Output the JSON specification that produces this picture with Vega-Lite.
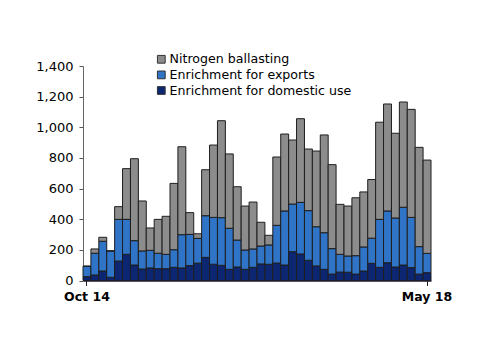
{
  "$schema": "https://vega.github.io/schema/vega-lite/v6.json",
  "autosize": {"type": "none"},
  "padding": {"left": 83, "top": 66, "right": 69, "bottom": 74},
  "width": 348,
  "height": 214.5,
  "background": "white",
  "config": {
    "view": {"stroke": null},
    "font": "DejaVu Sans",
    "axis": {"labelFont": "DejaVu Sans", "labelColor": "#000", "labelFontSize": 13, "grid": false, "title": null}
  },
  "datasets": {
    "wide": [
      {"m": "Oct 14", "dom": 25, "exp": 68, "nit": 0},
      {"m": "Nov 14", "dom": 36, "exp": 142, "nit": 28},
      {"m": "Dec 14", "dom": 62, "exp": 194, "nit": 26},
      {"m": "Jan 15", "dom": 21, "exp": 172, "nit": 0},
      {"m": "Feb 15", "dom": 127, "exp": 272, "nit": 83},
      {"m": "Mar 15", "dom": 171, "exp": 228, "nit": 331},
      {"m": "Apr 15", "dom": 101, "exp": 159, "nit": 535},
      {"m": "May 15", "dom": 75, "exp": 118, "nit": 326},
      {"m": "Jun 15", "dom": 82, "exp": 115, "nit": 146},
      {"m": "Jul 15", "dom": 77, "exp": 101, "nit": 221},
      {"m": "Aug 15", "dom": 77, "exp": 94, "nit": 248},
      {"m": "Sep 15", "dom": 86, "exp": 115, "nit": 433},
      {"m": "Oct 15", "dom": 82, "exp": 217, "nit": 574},
      {"m": "Nov 15", "dom": 97, "exp": 204, "nit": 142},
      {"m": "Dec 15", "dom": 113, "exp": 162, "nit": 30},
      {"m": "Jan 16", "dom": 151, "exp": 272, "nit": 300},
      {"m": "Feb 16", "dom": 106, "exp": 306, "nit": 472},
      {"m": "Mar 16", "dom": 99, "exp": 311, "nit": 633},
      {"m": "Apr 16", "dom": 73, "exp": 268, "nit": 485},
      {"m": "May 16", "dom": 88, "exp": 176, "nit": 348},
      {"m": "Jun 16", "dom": 73, "exp": 126, "nit": 287},
      {"m": "Jul 16", "dom": 86, "exp": 120, "nit": 306},
      {"m": "Aug 16", "dom": 108, "exp": 117, "nit": 155},
      {"m": "Sep 16", "dom": 106, "exp": 126, "nit": 63},
      {"m": "Oct 16", "dom": 114, "exp": 246, "nit": 446},
      {"m": "Nov 16", "dom": 101, "exp": 353, "nit": 502},
      {"m": "Dec 16", "dom": 188, "exp": 311, "nit": 418},
      {"m": "Jan 17", "dom": 173, "exp": 337, "nit": 546},
      {"m": "Feb 17", "dom": 132, "exp": 324, "nit": 402},
      {"m": "Mar 17", "dom": 95, "exp": 256, "nit": 494},
      {"m": "Apr 17", "dom": 73, "exp": 239, "nit": 638},
      {"m": "May 17", "dom": 42, "exp": 166, "nit": 548},
      {"m": "Jun 17", "dom": 55, "exp": 116, "nit": 326},
      {"m": "Jul 17", "dom": 54, "exp": 106, "nit": 326},
      {"m": "Aug 17", "dom": 42, "exp": 120, "nit": 378},
      {"m": "Sep 17", "dom": 62, "exp": 157, "nit": 359},
      {"m": "Oct 17", "dom": 112, "exp": 164, "nit": 383},
      {"m": "Nov 17", "dom": 86, "exp": 313, "nit": 634},
      {"m": "Dec 17", "dom": 116, "exp": 338, "nit": 698},
      {"m": "Jan 18", "dom": 88, "exp": 320, "nit": 553},
      {"m": "Feb 18", "dom": 101, "exp": 377, "nit": 687},
      {"m": "Mar 18", "dom": 84, "exp": 328, "nit": 705},
      {"m": "Apr 18", "dom": 42, "exp": 179, "nit": 648},
      {"m": "May 18", "dom": 51, "exp": 126, "nit": 609}
    ],
    "names": [
      {"key": "nit", "series": "Nitrogen ballasting"},
      {"key": "exp", "series": "Enrichment for exports"},
      {"key": "dom", "series": "Enrichment for domestic use"}
    ]
  },
  "data": {"name": "wide"},
  "transform": [
    {"fold": ["dom", "exp", "nit"], "as": ["key", "v"]},
    {"lookup": "key", "from": {"data": {"name": "names"}, "key": "key", "fields": ["series"]}}
  ],
  "mark": {"type": "bar", "stroke": "#1e1e1e", "strokeWidth": 1},
  "encoding": {
    "x": {
      "field": "m", "type": "ordinal", "sort": null,
      "scale": {"paddingInner": 0, "paddingOuter": 0},
      "axis": {"values": ["Oct 14", "May 18"], "labelAngle": 0, "tickSize": 5, "tickColor": "#222", "domainColor": "#1a1a3a", "domainWidth": 1.5, "labelPadding": 5, "labelFontWeight": "bold", "labelFontSize": 12.5}
    },
    "y": {
      "field": "v", "type": "quantitative", "stack": "zero",
      "scale": {"domain": [0, 1400], "nice": false},
      "axis": {"values": [0, 200, 400, 600, 800, 1000, 1200, 1400], "format": ",.0f", "tickSize": 4, "tickColor": "#555", "domainColor": "#666", "labelPadding": 6}
    },
    "color": {
      "field": "series", "type": "nominal",
      "scale": {
        "domain": ["Nitrogen ballasting", "Enrichment for exports", "Enrichment for domestic use"],
        "range": ["#8c8c8c", "#2f74c6", "#0c2672"]
      },
      "legend": {
        "title": null, "orient": "none", "legendX": 72, "legendY": -13,
        "symbolType": "square", "symbolSize": 60, "symbolStrokeColor": "#333", "symbolStrokeWidth": 1,
        "labelFontSize": 12.6, "labelColor": "#000", "labelFont": "DejaVu Sans", "labelLimit": 400,
        "labelOffset": 2, "rowPadding": 2.6, "padding": 0
      }
    },
    "order": {"field": "key", "sort": "ascending"}
  }
}
